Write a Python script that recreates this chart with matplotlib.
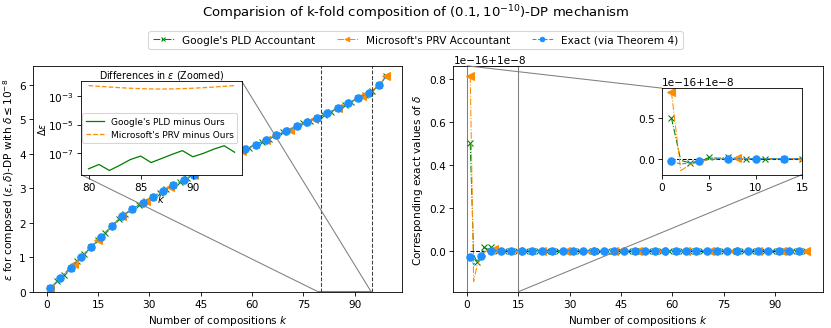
import matplotlib

matplotlib.use("Agg")
import matplotlib.pyplot as plt
from mpl_toolkits.axes_grid1.inset_locator import mark_inset

# k-fold compositions
ks = list(range(1, 100))

# epsilon for composed DP at delta <= 1e-8 (exact, PLD and PRV overlap at this scale)
eps_exact = [
    0.10, 0.20, 0.30, 0.40, 0.50, 0.60, 0.70, 0.80, 0.90, 1.00,
    1.10, 1.20, 1.30, 1.40, 1.50, 1.60, 1.70, 1.80, 1.90, 2.00,
    2.10, 2.19, 2.26, 2.33, 2.40, 2.46, 2.52, 2.58, 2.64, 2.70,
    2.76, 2.81, 2.87, 2.92, 2.98, 3.03, 3.08, 3.13, 3.19, 3.24,
    3.29, 3.34, 3.39, 3.44, 3.49, 3.54, 3.59, 3.64, 3.69, 3.74,
    3.79, 3.84, 3.88, 3.93, 3.98, 4.03, 4.08, 4.13, 4.17, 4.22,
    4.26, 4.31, 4.35, 4.39, 4.44, 4.48, 4.53, 4.57, 4.62, 4.66,
    4.70, 4.75, 4.79, 4.83, 4.88, 4.92, 4.96, 5.00, 5.04, 5.08,
    5.13, 5.17, 5.22, 5.27, 5.31, 5.36, 5.41, 5.46, 5.51, 5.56,
    5.61, 5.66, 5.71, 5.76, 5.82, 5.90, 5.99, 6.09, 6.24,
]
eps_pld = eps_exact
eps_prv = eps_exact

# zoomed differences in epsilon, k = 80..94
ks_zoom = list(range(80, 95))
diff_pld = [8.5e-9, 1.7e-8, 6.5e-9, 1.5e-8, 3.7e-8, 6.5e-8, 2.3e-8, 4.4e-8,
            8.5e-8, 1.55e-7, 5.8e-8, 1.0e-7, 1.95e-7, 3.4e-7, 1.2e-7]
diff_prv = [5.0e-3, 4.5e-3, 4.0e-3, 3.6e-3, 3.3e-3, 3.1e-3, 2.95e-3, 2.9e-3,
            2.95e-3, 3.1e-3, 3.3e-3, 3.6e-3, 4.0e-3, 4.5e-3, 5.0e-3]

# delta values: 1e-8 plus deviation given in units of 1e-16 (zero after k=8)
delta_base = 1e-8
dev_unit = 1e-16
dev_pld_head = [0.50, -0.02, -0.053, -0.035, 0.015, 0.006, 0.016, 0.0]
dev_prv_head = [0.815, -0.145, -0.07, -0.04, -0.01, 0.0, 0.0, 0.006]
dev_exact_head = [-0.032, -0.065, -0.05, -0.025, -0.006, 0.0, -0.003, 0.0]

C_PLD = "green"
C_PRV = "darkorange"
C_EXACT = "dodgerblue"
DPI = 76


def full_delta(head):
    vals = head + [0.0] * (len(ks) - len(head))
    return [delta_base + v * dev_unit for v in vals]


delta_pld = full_delta(dev_pld_head)
delta_prv = full_delta(dev_prv_head)
delta_exact = full_delta(dev_exact_head)

fig, (ax1, ax2) = plt.subplots(1, 2, figsize=(831 / DPI, 329 / DPI), dpi=DPI)
fig.subplots_adjust(left=0.04, right=0.99, bottom=0.11, top=0.797, wspace=0.138)


def draw_series(ax, ys_pld, ys_prv, ys_exact, labels=True):
    ax.plot(ks, ys_pld, "-.", color=C_PLD, marker="x", markevery=2, lw=1, ms=6,
            label="Google's PLD Accountant" if labels else None)
    ax.plot(ks, ys_prv, "-.", color=C_PRV, marker="<", markevery=7, lw=1, ms=7,
            label="Microsoft's PRV Accountant" if labels else None)
    ax.plot(ks, ys_exact, "--", color=C_EXACT, marker="o", markevery=3, lw=1, ms=7,
            label="Exact (via Theorem 4)" if labels else None)


# left panel
draw_series(ax1, eps_pld, eps_prv, eps_exact)
ax1.axvline(80, color="0.25", ls="--", lw=1)
ax1.axvline(95, color="0.25", ls="--", lw=1)
ax1.set_ylim(bottom=0)
ax1.set_xticks(range(0, 91, 15))
ax1.set_xlabel("Number of compositions $k$")
ax1.set_ylabel(r"$\epsilon$ for composed $(\epsilon, \delta)$-DP with $\delta \leq 10^{-8}$",
               labelpad=2)

ins1 = ax1.inset_axes([0.13, 0.518, 0.435, 0.413])
ins1.plot(ks_zoom, diff_pld, "-", color=C_PLD, lw=1.2, label="Google's PLD minus Ours")
ins1.plot(ks_zoom, diff_prv, "--", color=C_PRV, lw=1.2, label="Microsoft's PRV minus Ours")
ins1.set_yscale("log")
ins1.set_xticks([80, 85, 90])
ins1.set_yticks([1e-7, 1e-5, 1e-3])
ins1.yaxis.set_minor_locator(matplotlib.ticker.NullLocator())
ins1.set_title(r"Differences in $\epsilon$ (Zoomed)", fontsize=9, pad=3)
ins1.set_xlabel("$k$", fontsize=9.5, labelpad=0)
ins1.set_ylabel(r"$\Delta\epsilon$", fontsize=9, labelpad=0)
ins1.legend(loc="center right", fontsize=8.5)
mark_inset(ax1, ins1, loc1=1, loc2=3, fc="none", ec="0.5")

# right panel
ax2.plot(ks, [delta_base] * len(ks), "k--", lw=1)
draw_series(ax2, delta_pld, delta_prv, delta_exact, labels=False)
ax2.set_xticks(range(0, 91, 15))
ax2.set_xlabel("Number of compositions $k$")
ax2.set_ylabel(r"Corresponding exact values of $\delta$")

ins2 = ax2.inset_axes([0.565, 0.519, 0.38, 0.382])
ins2.plot(ks, [delta_base] * len(ks), "k--", lw=1)
draw_series(ins2, delta_pld, delta_prv, delta_exact, labels=False)
ins2.set_xlim(0, 15)
mark_inset(ax2, ins2, loc1=2, loc2=4, fc="none", ec="0.5")

fig.suptitle(r"Comparision of k-fold composition of $(0.1, 10^{-10})$-DP mechanism",
             fontsize=12.5, y=0.99)
fig.legend(*ax1.get_legend_handles_labels(), loc="upper center",
           bbox_to_anchor=(0.5, 0.92), ncol=3, markerscale=0.6)

fig.savefig("out.png", dpi=DPI)
